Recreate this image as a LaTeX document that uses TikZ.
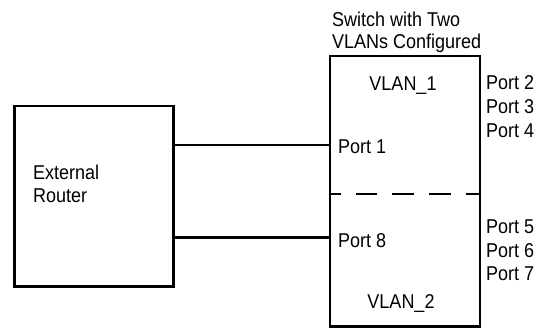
\documentclass[tikz,border=0pt]{standalone}
\usepackage{fontspec}
\setmainfont[FakeStretch=0.9]{Liberation Sans}
\begin{document}
\begin{tikzpicture}[x=1pt,y=-1pt,
  box/.style={draw,line width=2.8pt,inner sep=0pt},
  wire/.style={line width=2.8pt},
  lbl/.style={inner sep=0pt,anchor=base west,font=\fontsize{20}{23}\selectfont},
  clbl/.style={inner sep=0pt,anchor=base,font=\fontsize{20}{23}\selectfont}]
\useasboundingbox (0,0) rectangle (535,330);
% boxes
\node[box,minimum width=159.4pt,minimum height=180.7pt] (router) at (94,196.3) {};
\node[box,minimum width=150pt,minimum height=270.5pt] (switch) at (405,191.25) {};
% texts
\node[lbl] (t1) at (332,26) {Switch with Two};
\node[lbl] (t2) at (332,48) {VLANs Configured};
\node[lbl] (ext) at (33,179) {External};
\node[lbl] (rtr) at (33,202) {Router};
\node[clbl] (v1) at (403,90) {VLAN\_1};
\node[clbl] (v2) at (401,308) {VLAN\_2};
\node[lbl] (p1) at (338,153) {Port 1};
\node[lbl] (p8) at (338,247) {Port 8};
\node[lbl] (p2) at (486,89) {Port 2};
\node[lbl] (p3) at (486,113) {Port 3};
\node[lbl] (p4) at (486,137) {Port 4};
\node[lbl] (p5) at (486,233) {Port 5};
\node[lbl] (p6) at (486,257) {Port 6};
\node[lbl] (p7) at (486,280) {Port 7};
% connectors
\coordinate (ya) at (0,145);
\coordinate (yb) at (0,237.3);
\coordinate (yd) at (0,194);
\draw[wire] (router.east |- ya) -- (switch.west |- ya);
\draw[wire] ([xshift=-3pt]router.east |- yb) -- (switch.west |- yb);
\draw[line width=2.8pt,dash pattern=on 21.7pt off 15pt,dash phase=9.7pt] (switch.west |- yd) -- (switch.east |- yd);
\end{tikzpicture}
\end{document}
